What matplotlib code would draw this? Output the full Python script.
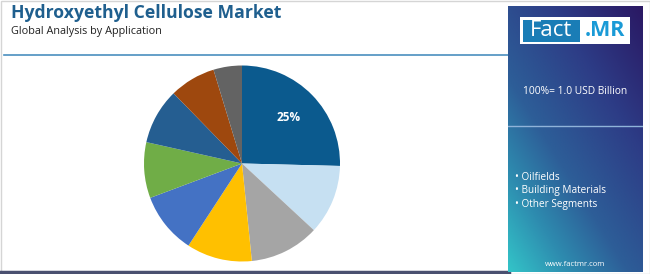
import numpy as np
import matplotlib.pyplot as plt
from matplotlib.patches import Rectangle
from matplotlib.colors import LinearSegmentedColormap

# Data
segments = ["Seg1", "Seg2", "Seg3", "Seg4", "Seg5", "Seg6", "Seg7", "Seg8", "Seg9"]
shares = [25.4, 11.5, 11.5, 10.8, 10.1, 9.2, 9.2, 7.6, 4.7]
colors = ["#0B5A8E", "#C6E0F2", "#A5A5A5", "#FFC000", "#4472C4",
          "#70AD47", "#255E91", "#9E480E", "#636363"]
labels_shown = ["25%", "", "", "", "", "", "", "", ""]
legend_items = ["Oilfields", "Building Materials", "Other Segments"]

W, H = 650, 274
fig = plt.figure(figsize=(W / 100, H / 100), dpi=100)
fig.patch.set_facecolor("white")

def fx(x): return x / W
def fy(y): return 1 - y / H

bg = fig.add_axes([0, 0, 1, 1])
bg.set_xlim(0, W); bg.set_ylim(H, 0); bg.axis("off")
bg.add_patch(Rectangle((0.5, 0.5), W - 1, H - 1, fill=False, edgecolor="#D5D5D5", lw=1))
bg.plot([4, 509], [54.5, 54.5], color="#4A8FBF", lw=1.2)
bg.plot([0, 509], [271.5, 271.5], color="#4A5070", lw=2.5)

family = ["Open Sans", "DejaVu Sans"]
bg.text(11, 13, "Hydroxyethyl Cellulose Market", fontsize=12.7, fontweight="bold",
        color="#1F5F8E", family=family, va="center", ha="left")
bg.text(11, 31.5, "Global Analysis by Application", fontsize=7.8, color="#222222",
        family=family, va="center", ha="left")

# Gradient panel
px0, px1, py0, py1 = 508, 643, 6, 272
pax = fig.add_axes([fx(px0), fy(py1), (px1 - px0) / W, (py1 - py0) / H])
pax.axis("off")
n = 200
xx, yy = np.meshgrid(np.linspace(0, 1, n), np.linspace(0, 1, n))
t = np.clip((1 - xx) * 0.45 + yy * 0.55, 0, 1)  # yy=0 top
cmap = LinearSegmentedColormap.from_list(
    "p", [(0, "#2A1863"), (0.3, "#2D3C86"), (0.6, "#2D5E98"), (0.8, "#2E8DB0"), (1, "#33C4C8")])
pax.imshow(t, cmap=cmap, aspect="auto", extent=[0, 1, 1, 0])
pax.set_xlim(0, 1); pax.set_ylim(1, 0)
pax.plot([0, 1], [(126 - py0) / (py1 - py0)] * 2, color="#8FB3D9", lw=1)

# overlay for panel text
ov = fig.add_axes([0, 0, 1, 1])
ov.set_xlim(0, W); ov.set_ylim(H, 0); ov.axis("off")
ov.patch.set_alpha(0)
ov.add_patch(Rectangle((520, 17), 110, 27, facecolor="white", edgecolor="none", zorder=5))
ov.add_patch(Rectangle((522.5, 19.5), 57, 22, facecolor="#1A7DB6", edgecolor="none", zorder=6))
ov.text(551, 30.5, "Fact", color="white", fontsize=16, ha="center", va="center",
        family=family, zorder=7)
ov.text(605, 30.5, ".MR", color="#1A9AD6", fontsize=15.5, fontweight="bold", ha="center",
        va="center", family=family, zorder=7)
ov.text(575, 92, "100%= 1.0 USD Billion", color="white", fontsize=7.4, ha="center",
        va="center", family=family, zorder=7)
for i, item in enumerate(legend_items):
    ov.text(515, 177 + i * 14, "• " + item, color="white", fontsize=7.2, ha="left",
            va="center", family=family, zorder=7)
ov.text(575, 264, "www.factmr.com", color="white", fontsize=5.5, ha="center",
        va="center", family=family, zorder=7)

# Pie
cx, cy, r = 242, 163.5, 98
ax = fig.add_axes([fx(cx - r), fy(cy + r), 2 * r / W, 2 * r / H])
wedges, texts = ax.pie(shares, colors=colors, startangle=90, counterclock=False,
                       labels=labels_shown, labeldistance=0.67, radius=1,
                       wedgeprops=dict(linewidth=0))
for tx in texts:
    tx.set_color("white"); tx.set_fontweight("bold"); tx.set_fontsize(8.5)
    tx.set_ha("center"); tx.set_va("center"); tx.set_family(family)
ax.set_xlim(-1, 1); ax.set_ylim(-1, 1); ax.set_aspect("equal")
ax.axis("off")

fig.savefig("out.png", dpi=100, facecolor="white")
